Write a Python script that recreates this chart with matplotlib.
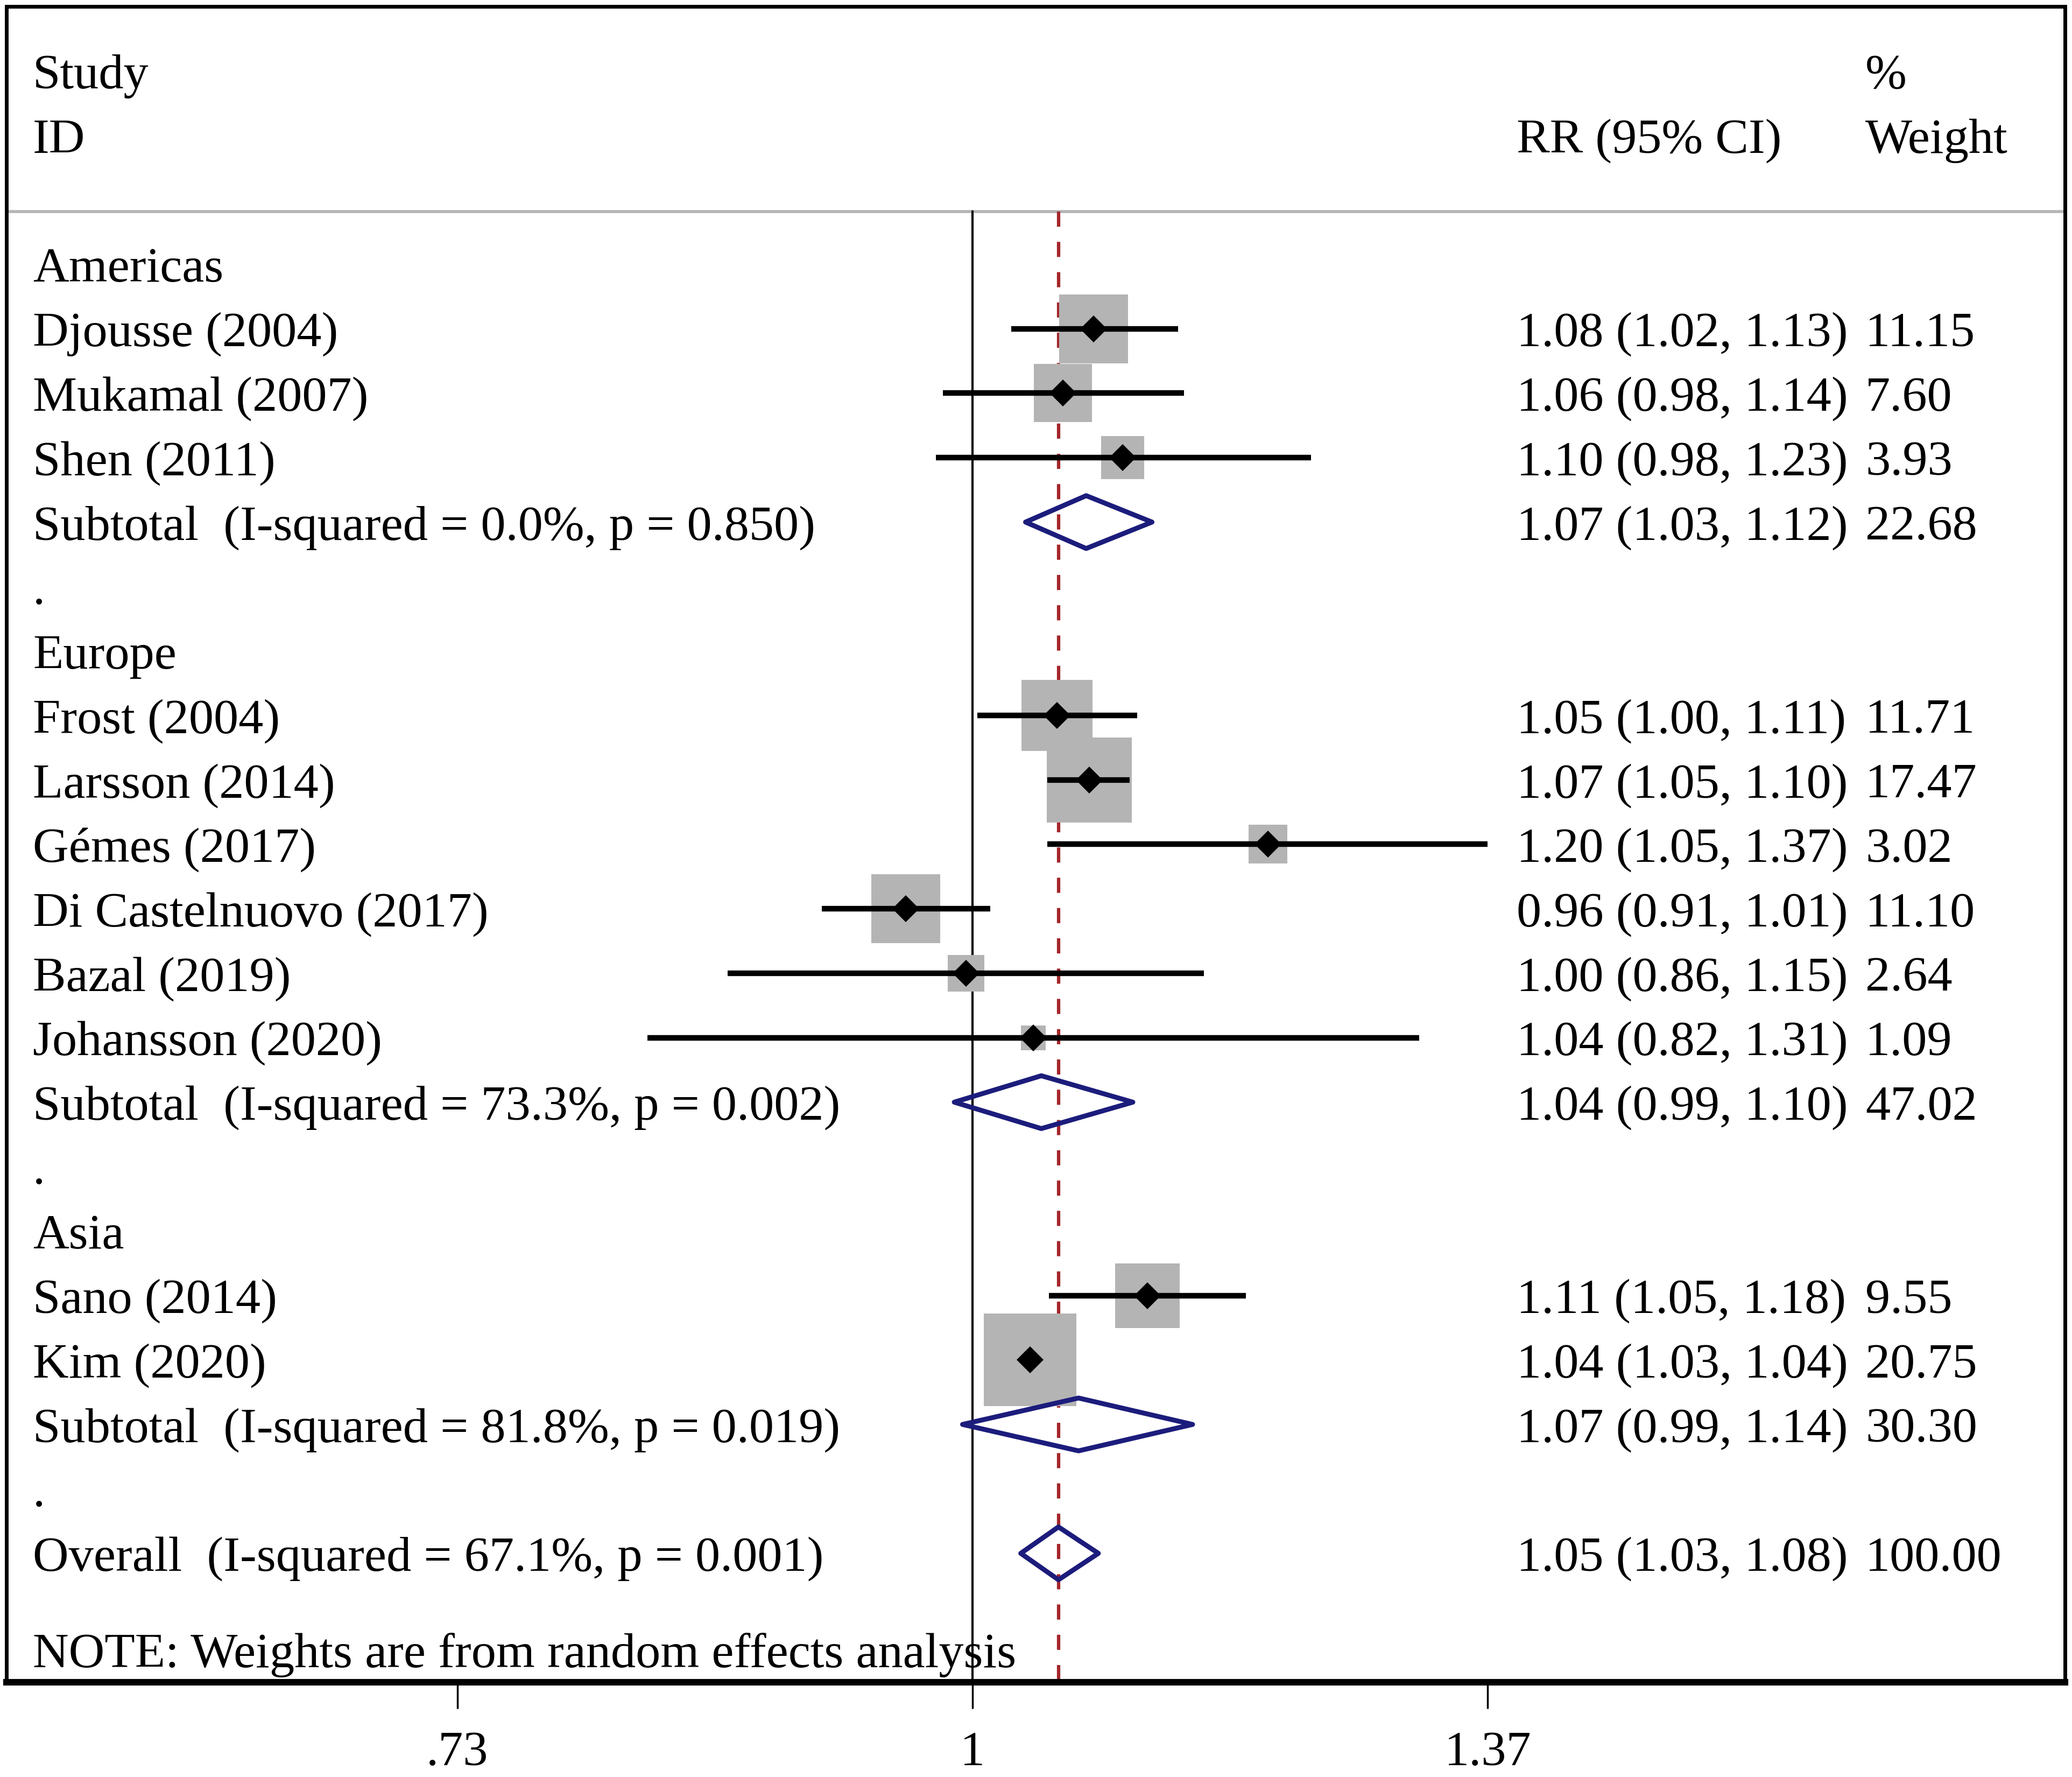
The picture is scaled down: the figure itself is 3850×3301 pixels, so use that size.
import numpy as np
import matplotlib.pyplot as plt
from matplotlib.patches import Polygon

plt.rcParams['font.family'] = ['Liberation Serif', 'DejaVu Serif']

# study level estimates (RR, 95% CI, % weight)
regions = ['Americas', 'Europe', 'Asia']
study_names = ['Djousse (2004)', 'Mukamal (2007)', 'Shen (2011)',
               'Frost (2004)', 'Larsson (2014)', 'Gémes (2017)', 'Di Castelnuovo (2017)',
               'Bazal (2019)', 'Johansson (2020)',
               'Sano (2014)', 'Kim (2020)']
study_region = [0, 0, 0, 1, 1, 1, 1, 1, 1, 2, 2]
rr = [1.077, 1.057, 1.096, 1.053, 1.074, 1.198, 0.960, 0.996, 1.038, 1.113, 1.036]
lo = [1.024, 0.982, 0.978, 1.003, 1.047, 1.047, 0.912, 0.861, 0.820, 1.048, 1.032]
hi = [1.134, 1.138, 1.230, 1.106, 1.101, 1.370, 1.011, 1.152, 1.314, 1.182, 1.038]
weights = [11.15, 7.60, 3.93, 11.71, 17.47, 3.02, 11.10, 2.64, 1.09, 9.55, 20.75]

# subgroup pooled estimates
sub_rr = [1.072, 1.043, 1.067]
sub_lo = [1.033, 0.989, 0.994]
sub_hi = [1.116, 1.103, 1.144]
sub_wt = [22.68, 47.02, 30.30]
sub_i2 = [0.0, 73.3, 81.8]
sub_p = [0.850, 0.002, 0.019]

# overall pooled estimate
ov_rr, ov_lo, ov_hi, ov_wt = 1.054, 1.030, 1.080, 100.00
ov_i2, ov_p = 67.1, 0.001

x_ticks = [0.73, 1, 1.37]
x_tick_labels = ['.73', '1', '1.37']

fig = plt.figure(figsize=(15.4, 13.204), dpi=250)
ax = fig.add_axes([0.00312, 0.05332, 0.99351, 0.94305])
ax.set_xscale('log')
ax.set_xlim(0.5543, 1.9493)
ax.set_ylim(22, -4)

fs = 26.6
navy = '#1c1c7c'
col_ci = 0.7336
col_wt = 0.903
col_left = 0.0128
tr = ax.get_yaxis_transform()  # x in axes fraction, y in data
base = 0.27


def put(x, y, s):
    ax.text(x, y + base, s, transform=tr, fontsize=fs, va='baseline', ha='left')


def pooled(y, est, l, h, w, label):
    ax.add_patch(Polygon([(l, y), (est, y - 0.41), (h, y), (est, y + 0.41)],
                         closed=True, fill=False, edgecolor=navy, lw=2.6,
                         joinstyle='round', zorder=5))
    put(col_left, y, label)
    put(col_ci, y, f'{est:.2f} ({l:.2f}, {h:.2f})')
    put(col_wt, y, f'{w:.2f}')


# header
put(col_left, -3, 'Study')
put(col_left, -2, 'ID')
put(col_ci, -2, 'RR (95% CI)')
put(col_wt, -3, '%')
put(col_wt, -2, 'Weight')
ax.axhline(-0.82, color='#b4b4b4', lw=1.6, zorder=1)

row = 0
for g, reg in enumerate(regions):
    put(col_left, row, reg)
    row += 1
    for i in range(len(study_names)):
        if study_region[i] != g:
            continue
        ax.plot(rr[i], row, marker='s', ms=10.25 * np.sqrt(weights[i]) + 2.8,
                color='#b4b4b4', mew=0, zorder=2)
        ax.plot([lo[i], hi[i]], [row, row], color='black', lw=3.0,
                solid_capstyle='butt', zorder=3)
        ax.plot(rr[i], row, marker='D', ms=10, color='black', mew=0, zorder=4)
        put(col_left, row, study_names[i])
        put(col_ci, row, f'{rr[i]:.2f} ({lo[i]:.2f}, {hi[i]:.2f})')
        put(col_wt, row, f'{weights[i]:.2f}')
        row += 1
    pooled(row, sub_rr[g], sub_lo[g], sub_hi[g], sub_wt[g],
           f'Subtotal  (I-squared = {sub_i2[g]:.1f}%, p = {sub_p[g]:.3f})')
    row += 1
    put(col_left, row, '.')
    row += 1

pooled(row, ov_rr, ov_lo, ov_hi, ov_wt,
       f'Overall  (I-squared = {ov_i2:.1f}%, p = {ov_p:.3f})')
put(col_left, row + 1.5, 'NOTE: Weights are from random effects analysis')

# reference lines
ax.plot([1, 1], [-0.82, 22], color='black', lw=1.2, zorder=1)
ax.plot([ov_rr, ov_rr], [-0.82, 22], color='#a3262a', lw=1.8,
        dashes=(4.5, 4.5), zorder=1)

ax.set_yticks([])
ax.set_xticks(x_ticks)
ax.set_xticklabels(x_tick_labels, fontsize=fs)
ax.minorticks_off()
ax.tick_params(axis='x', direction='out', length=14, width=1.0, pad=12)
for s in ['left', 'top', 'right']:
    ax.spines[s].set_linewidth(2.0)
ax.spines['bottom'].set_linewidth(3.5)

plt.savefig('out.png', dpi=250)
